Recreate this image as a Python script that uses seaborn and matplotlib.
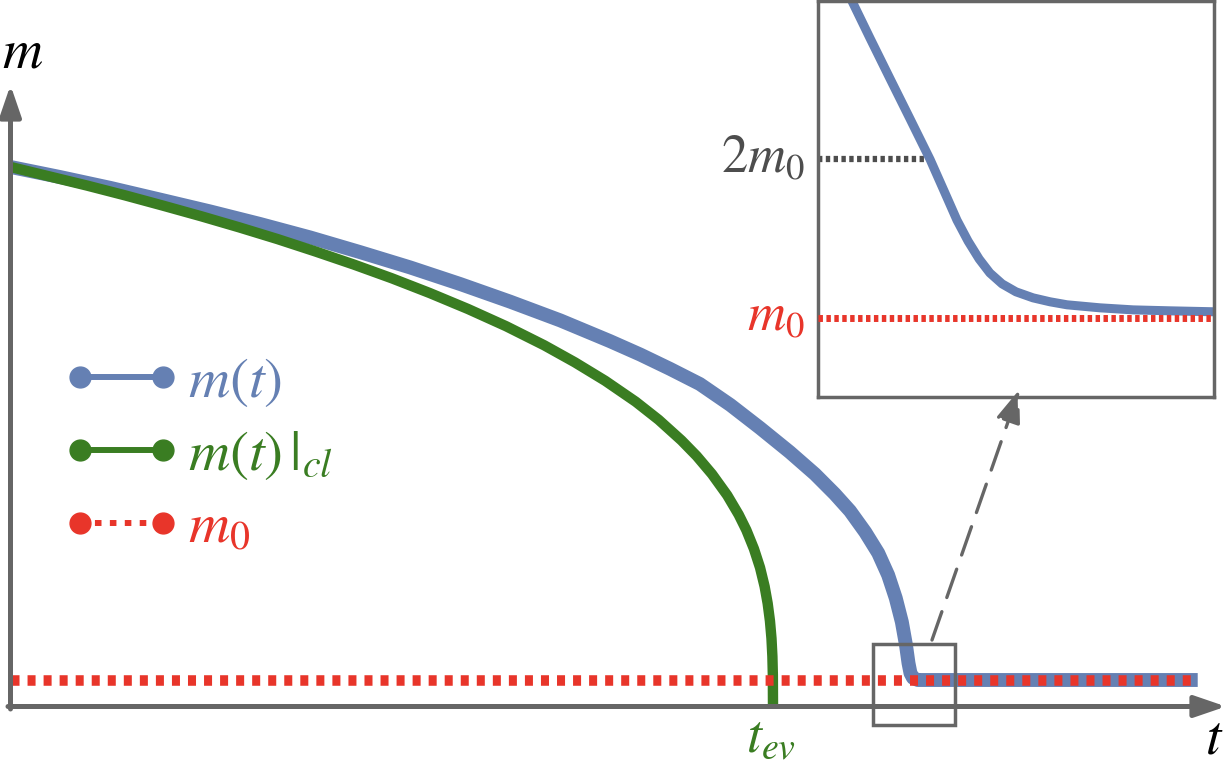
import matplotlib
matplotlib.use("Agg")
import matplotlib.pyplot as plt
from matplotlib.lines import Line2D
from matplotlib.patches import Rectangle, ConnectionPatch
import seaborn as sns

# -------- data (t in units of t_ev, m in units of m0) --------
# classical evaporation m(t)|cl, hits zero at t_ev
t_cl = [0.0, 0.05, 0.1, 0.15, 0.2, 0.25, 0.3, 0.35, 0.4, 0.45, 0.5, 0.55, 0.6,
        0.65, 0.7, 0.74, 0.78, 0.82, 0.85, 0.88, 0.9, 0.92, 0.94, 0.955, 0.965,
        0.975, 0.983, 0.989, 0.993, 0.996, 0.998, 0.9992, 0.9998, 1.0]
m_cl = [20.36, 20.01, 19.66, 19.29, 18.90, 18.50, 18.08, 17.64, 17.17, 16.68,
        16.16, 15.60, 15.00, 14.35, 13.63, 12.99, 12.29, 11.50, 10.82, 10.04,
        9.45, 8.77, 7.97, 7.24, 6.66, 5.95, 5.24, 4.53, 3.89, 3.23, 2.57, 1.89,
        1.19, 0.0]

# full m(t), levels off at the remnant mass m0
t_q = [0.0, 0.065, 0.131, 0.196, 0.262, 0.327, 0.393, 0.458, 0.524, 0.590,
       0.655, 0.721, 0.786, 0.826, 0.865, 0.904, 0.944, 0.983, 1.022, 1.055,
       1.081, 1.101, 1.121, 1.138, 1.151, 1.161, 1.169, 1.1744, 1.1777, 1.1803,
       1.1836, 1.190, 1.206, 1.557]
m_q = [20.36, 19.98, 19.57, 19.13, 18.68, 18.21, 17.70, 17.15, 16.57, 15.94,
       15.28, 14.57, 13.79, 13.28, 12.74, 12.17, 11.38, 10.51, 9.60, 8.77,
       8.02, 7.38, 6.58, 5.79, 4.96, 4.09, 3.19, 2.32, 1.64, 1.26,
       1.08, 1.0, 1.0, 1.0]

m0 = 1.0
t_end = 1.557

# inset: zoom on the approach to m0 (local time axis 0..1)
u_zoom = [0.076, 0.131, 0.182, 0.232, 0.283, 0.321, 0.351, 0.379, 0.407, 0.434,
          0.465, 0.500, 0.543, 0.586, 0.629, 0.712, 0.796, 0.889, 1.0]
m_zoom = [3.05, 2.767, 2.509, 2.258, 2.0, 1.786, 1.616, 1.484, 1.371, 1.283,
          1.214, 1.164, 1.126, 1.101, 1.082, 1.063, 1.050, 1.044, 1.038]
u_cross = 0.283   # where m(t) passes 2 m0

# zoom window drawn on the main plot
ZOOM_T = (1.131, 1.239)
ZOOM_M = (-0.70, 2.36)

# -------- colours --------
BLUE = "#6580B3"
GREEN = "#3A7D22"
RED = "#E8352A"
GREY = "#666666"
DARK = "#4D4D4D"

W, H, DPI = 1232, 766, 100
X0_PX, Y0_PX = 10.5, 706.5     # pixel position of the origin
T_PX, M_PX = 762.5, 26.5       # pixels per t_ev and per m0


def px(x, y):
    """figure pixel -> main data coords"""
    return (x - X0_PX) / T_PX, (Y0_PX - y) / M_PX


sns.set_theme(style="white")
plt.rcParams["mathtext.fontset"] = "stix"
plt.rcParams["font.family"] = ["STIXGeneral", "DejaVu Sans"]

fig = plt.figure(figsize=(W / DPI, H / DPI), dpi=DPI)
ax = fig.add_axes([0, 0, 1, 1])
ax.set_xlim(px(0, 0)[0], px(W, 0)[0])
ax.set_ylim(px(0, H)[1], px(0, 0)[1])
ax.axis("off")

# -------- curves --------
sns.lineplot(x=t_q, y=m_q, ax=ax, color=BLUE, lw=10, sort=False,
             estimator=None, solid_capstyle="butt", zorder=2)
sns.lineplot(x=t_cl, y=m_cl, ax=ax, color=GREEN, lw=7.5, sort=False,
             estimator=None, solid_capstyle="butt", zorder=3)
sns.lineplot(x=[0, t_end], y=[m0, m0], ax=ax, color=RED, lw=7.6,
             linestyle=(0, (0.76, 0.76)), zorder=4)

# -------- axes with arrow heads --------
arrow_kw = dict(arrowstyle="-|>,head_length=19,head_width=6.5", mutation_scale=1,
                lw=3.6, color=GREY, shrinkA=0, shrinkB=0)
ax.annotate("", xy=px(X0_PX, 85), xytext=px(X0_PX, 709), arrowprops=arrow_kw, zorder=6)
ax.annotate("", xy=px(1226, Y0_PX), xytext=px(8, Y0_PX), arrowprops=arrow_kw, zorder=6)

ax.text(*px(2, 68), r"$m$", fontsize=40, color="black", ha="left", va="baseline")
ax.text(*px(1205, 753), r"$t$", fontsize=40, color="black", ha="left", va="baseline")
ax.text(*px(771, 752), r"$t_{ev}$", fontsize=39, color=GREEN, ha="center", va="baseline")

# zoom window
ax.add_patch(Rectangle((ZOOM_T[0], ZOOM_M[0]), ZOOM_T[1] - ZOOM_T[0], ZOOM_M[1] - ZOOM_M[0],
                       fill=False, ec=GREY, lw=2.5, zorder=5))

# -------- legend --------
handles = [
    Line2D([], [], color=BLUE, lw=4.3, marker="o", ms=15, label=r"$m(t)$"),
    Line2D([], [], color=GREEN, lw=4.3, marker="o", ms=15, label=r"$m(t)\,|_{cl}$"),
    Line2D([], [], color=RED, lw=4.3, ls=(0, (1.1, 1.4)), marker="o", ms=15, label=r"$m_0$"),
]
ax.legend(handles=handles, loc="center left", bbox_to_anchor=(63 / W, 1 - 455 / H),
          bbox_transform=fig.transFigure, frameon=False, fontsize=41, numpoints=2,
          handlelength=2.06, handletextpad=0.14, labelspacing=0.36, borderpad=0,
          borderaxespad=0, labelcolor="linecolor")

# -------- inset --------
ax_in = fig.add_axes([818 / W, 1 - 397 / H, 396 / W, 396 / H])
ax_in.set_xlim(0, 1)
ax_in.set_ylim(0.5, 3.0)
ax_in.set_xticks([])
ax_in.set_yticks([])
for s in ax_in.spines.values():
    s.set_visible(True)
    s.set_color(GREY)
    s.set_linewidth(2.5)

sns.lineplot(x=u_zoom, y=m_zoom, ax=ax_in, color=BLUE, lw=6.5, sort=False,
             estimator=None, solid_capstyle="butt", zorder=2)
sns.lineplot(x=[0, 1], y=[m0, m0], ax=ax_in, color=RED, lw=5,
             linestyle=(0, (0.64, 0.5)), zorder=3)
sns.lineplot(x=[0, u_cross], y=[2 * m0, 2 * m0], ax=ax_in, color=DARK, lw=4.5,
             linestyle=(0, (0.7, 0.55)), zorder=1)

ytr = ax_in.get_yaxis_transform()
ax_in.text(-0.033, 2 * m0, r"$2m_0$", transform=ytr, fontsize=38, color=DARK,
           ha="right", va="center", clip_on=False)
ax_in.text(-0.033, m0, r"$m_0$", transform=ytr, fontsize=38, color=RED,
           ha="right", va="center", clip_on=False)

# dashed arrow from the zoom window up to the inset
con = ConnectionPatch(xyA=px(932, 640), coordsA=ax.transData,
                      xyB=(0.508, 0.018), coordsB=ax_in.transAxes,
                      arrowstyle="-|>,head_length=20,head_width=7.5", mutation_scale=1,
                      lw=2.4, ls=(0, (9, 4.5)), color=GREY, shrinkA=0, shrinkB=0)
fig.add_artist(con)

fig.savefig("out.png", dpi=DPI)
